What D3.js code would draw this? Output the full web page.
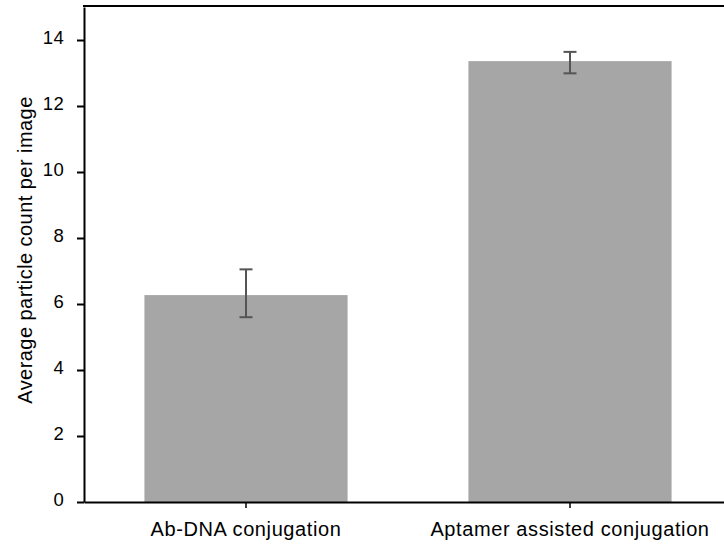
<!DOCTYPE html>
<html>
<head>
<meta charset="utf-8">
<script src="https://cdn.jsdelivr.net/npm/d3@7/dist/d3.min.js"></script>
<style>
  html, body { margin: 0; padding: 0; background: #fff; }
  svg { display: block; font-family: "Liberation Sans", Arial, sans-serif; }
</style>
</head>
<body>
<svg id="chart" width="724" height="548"></svg>
<script>
// Mean particle counts per image, with error (upper and lower bounds)
const categories = ["Ab-DNA conjugation", "Aptamer assisted conjugation"];
const means = [6.27, 13.36];
const errLow = [5.6, 12.99];
const errHigh = [7.05, 13.64];
const yTicks = [0, 2, 4, 6, 8, 10, 12, 14];
const yTitle = "Average particle count per image";

const svg = d3.select("#chart");
const plot = { left: 84, right: 732, top: 7, bottom: 502 };

const x = d3.scaleBand()
  .domain(categories)
  .range([plot.left, plot.right])
  .paddingInner(0.373)
  .paddingOuter(0.1865);

const y = d3.scaleLinear()
  .domain([0, 15])
  .range([plot.bottom, plot.top]);

// bars
svg.append("g")
  .selectAll("rect")
  .data(categories)
  .join("rect")
  .attr("x", d => x(d))
  .attr("width", x.bandwidth())
  .attr("y", (d, i) => y(means[i]))
  .attr("height", (d, i) => y(0) - y(means[i]))
  .attr("fill", "#a6a6a6");

// error bars
const eg = svg.append("g")
  .attr("stroke", "#555")
  .attr("stroke-width", 2)
  .attr("fill", "none");
categories.forEach((c, i) => {
  const cx = x(c) + x.bandwidth() / 2;
  eg.append("line").attr("x1", cx).attr("x2", cx)
    .attr("y1", y(errLow[i])).attr("y2", y(errHigh[i]));
  [errLow[i], errHigh[i]].forEach(v => {
    eg.append("line").attr("x1", cx - 6.5).attr("x2", cx + 6.5)
      .attr("y1", y(v)).attr("y2", y(v));
  });
});

// y axis
const yAxis = svg.append("g")
  .attr("transform", `translate(${plot.left},0)`)
  .call(d3.axisLeft(y).tickValues(yTicks).tickSize(7).tickPadding(13).tickSizeOuter(0));
yAxis.select(".domain").attr("stroke", "#000").attr("stroke-width", 2);
yAxis.selectAll(".tick line").attr("stroke", "#000").attr("stroke-width", 2);
yAxis.selectAll(".tick text")
  .attr("fill", "#000")
  .attr("font-size", 18.5)
  .attr("letter-spacing", 0.3)
  .attr("dy", "0.18em")
  .attr("font-family", "Liberation Sans, Arial, sans-serif");

// x axis
const xAxis = svg.append("g")
  .attr("transform", `translate(0,${plot.bottom})`)
  .call(d3.axisBottom(x).tickSize(6).tickPadding(14).tickSizeOuter(0));
xAxis.select(".domain").attr("stroke", "#000").attr("stroke-width", 2);
xAxis.selectAll(".tick line").attr("stroke", "#000").attr("stroke-width", 1.5);
xAxis.selectAll(".tick text")
  .attr("fill", "#000")
  .attr("font-size", 20)
  .attr("letter-spacing", 0.6)
  .attr("font-family", "Liberation Sans, Arial, sans-serif");

// top frame line
svg.append("line")
  .attr("x1", plot.left - 1).attr("x2", plot.right)
  .attr("y1", 6).attr("y2", 6)
  .attr("stroke", "#000").attr("stroke-width", 2);

// y axis title
svg.append("text")
  .attr("transform", `translate(32,250) rotate(-90)`)
  .attr("text-anchor", "middle")
  .attr("font-size", 20)
  .attr("letter-spacing", 0.45)
  .attr("fill", "#000")
  .text(yTitle);
</script>
</body>
</html>
